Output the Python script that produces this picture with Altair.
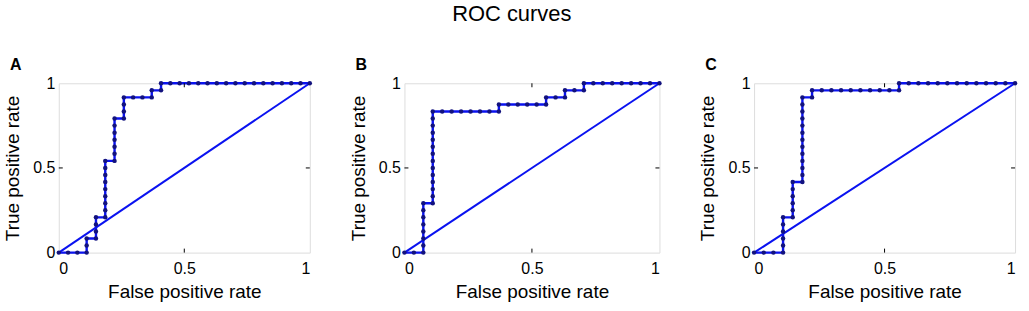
import altair as alt
import pandas as pd

TITLE = "ROC curves"
X_TITLE = "False positive rate"
Y_TITLE = "True positive rate"
TICK_VALUES = [0, 0.5, 1]
INNER_TICKS = [0.5]
DIAG = [0, 1]

N_NEG = 27
N_POS = 24

letters = ["A", "B", "C"]

fp_A = [0, 1, 2, 3, 3, 3, 4, 4, 4, 4, 5, 5, 5, 5, 5, 5, 5, 5, 5, 6, 6, 6, 6, 6, 6, 6,
        7, 7, 7, 7, 8, 9, 10, 10, 11, 11, 12, 13, 14, 15, 16, 17, 18, 19, 20, 21,
        22, 23, 24, 25, 26, 27]
tp_A = [0, 0, 0, 0, 1, 2, 2, 3, 4, 5, 5, 6, 7, 8, 9, 10, 11, 12, 13, 13, 14, 15, 16, 17, 18, 19,
        19, 20, 21, 22, 22, 22, 22, 23, 23, 24, 24, 24, 24, 24, 24, 24, 24, 24, 24, 24,
        24, 24, 24, 24, 24, 24]

fp_B = [0, 1, 2, 2, 2, 2, 2, 2, 2, 2, 3, 3, 3, 3, 3, 3, 3, 3, 3, 3, 3, 3, 3, 3,
        4, 5, 6, 7, 8, 9, 10, 10, 11, 12, 13, 14, 15, 15, 16, 17, 17, 18, 19, 19,
        20, 21, 22, 23, 24, 25, 26, 27]
tp_B = [0, 0, 0, 1, 2, 3, 4, 5, 6, 7, 7, 8, 9, 10, 11, 12, 13, 14, 15, 16, 17, 18, 19, 20,
        20, 20, 20, 20, 20, 20, 20, 21, 21, 21, 21, 21, 21, 22, 22, 22, 23, 23, 23, 24,
        24, 24, 24, 24, 24, 24, 24, 24]

fp_C = [0, 1, 2, 3, 3, 3, 3, 3, 3, 4, 4, 4, 4, 4, 4, 5, 5, 5, 5, 5, 5, 5, 5, 5, 5, 5, 5, 5,
        6, 6, 7, 8, 9, 10, 11, 12, 13, 14, 15, 15, 16, 17, 18, 19, 20, 21, 22, 23, 24,
        25, 26, 27]
tp_C = [0, 0, 0, 0, 1, 2, 3, 4, 5, 5, 6, 7, 8, 9, 10, 10, 11, 12, 13, 14, 15, 16, 17, 18, 19, 20, 21, 22,
        22, 23, 23, 23, 23, 23, 23, 23, 23, 23, 23, 24, 24, 24, 24, 24, 24, 24, 24, 24, 24,
        24, 24, 24]

series = {"A": (fp_A, tp_A), "B": (fp_B, tp_B), "C": (fp_C, tp_C)}
widths = {"A": 252, "B": 256, "C": 262}
H = 170

FONT = "Liberation Sans"
LINE_COLOR = "#0a12f0"
MARK_COLOR = "#12127e"


def panel(letter):
    fp, tp = series[letter]
    W = widths[letter]
    df = pd.DataFrame({
        "fpr": [f / N_NEG for f in fp],
        "tpr": [t / N_POS for t in tp],
        "order": list(range(len(fp))),
    })
    xs = alt.Scale(domain=[0, 1], nice=False, zero=False)
    ys = alt.Scale(domain=[0, 1], nice=False, zero=False)
    x = alt.X("fpr:Q", scale=xs, axis=alt.Axis(
        values=TICK_VALUES, format="~g", title=X_TITLE, ticks=False, domain=False,
        grid=False, labelPadding=8, titlePadding=6, labelFontSize=16, titleFontSize=19,
        labelFont=FONT, titleFont=FONT, titleFontWeight="normal", labelColor="black",
        titleColor="black"))
    y = alt.Y("tpr:Q", scale=ys, axis=alt.Axis(
        values=TICK_VALUES, format="~g", title=Y_TITLE, ticks=False, domain=False,
        grid=False, labelPadding=4, titlePadding=10, labelFontSize=16, titleFontSize=19,
        labelFont=FONT, titleFont=FONT, titleFontWeight="normal", labelColor="black",
        titleColor="black"))

    base = alt.Chart(df)
    curve = base.mark_line(color=LINE_COLOR, strokeWidth=2.4).encode(
        x=x, y=y, order="order:Q")
    pts = base.mark_point(shape="circle", filled=True, size=20, opacity=1,
                          color=MARK_COLOR).encode(x="fpr:Q", y="tpr:Q")
    diag = alt.Chart(pd.DataFrame({"x": DIAG, "y": DIAG})).mark_line(
        color=LINE_COLOR, strokeWidth=2).encode(x="x:Q", y="y:Q")

    tdf = pd.DataFrame({"v": INNER_TICKS})
    tk = alt.Chart(tdf)
    t_bottom = tk.mark_rule(color="black", strokeWidth=1).encode(
        x="v:Q", y=alt.value(H), y2=alt.value(H - 4))
    t_top = tk.mark_rule(color="black", strokeWidth=1).encode(
        x="v:Q", y=alt.value(0), y2=alt.value(4))
    t_left = tk.mark_rule(color="black", strokeWidth=1).encode(
        y="v:Q", x=alt.value(0), x2=alt.value(4))
    t_right = tk.mark_rule(color="black", strokeWidth=1).encode(
        y="v:Q", x=alt.value(W), x2=alt.value(W - 4))

    lab = alt.Chart(pd.DataFrame({"t": [letter]})).mark_text(
        font=FONT, fontSize=16, fontWeight="bold", align="left",
        baseline="alphabetic", color="black").encode(
        text="t:N", x=alt.value(-49), y=alt.value(-13))

    return alt.layer(diag, curve, pts, t_bottom, t_top, t_left, t_right, lab).properties(
        width=W, height=H)


chart = alt.hconcat(*[panel(l) for l in letters], spacing=95, bounds="flush").properties(
    title=alt.TitleParams(TITLE, font=FONT, fontSize=22, fontWeight="normal",
                          anchor="middle", color="black", offset=31),
    padding={"left": 3, "top": 2, "right": 8, "bottom": 5},
).configure_view(stroke="black", strokeWidth=1).configure(background="white")

chart.save("out.html", embed_options={"renderer": "svg", "actions": False})
